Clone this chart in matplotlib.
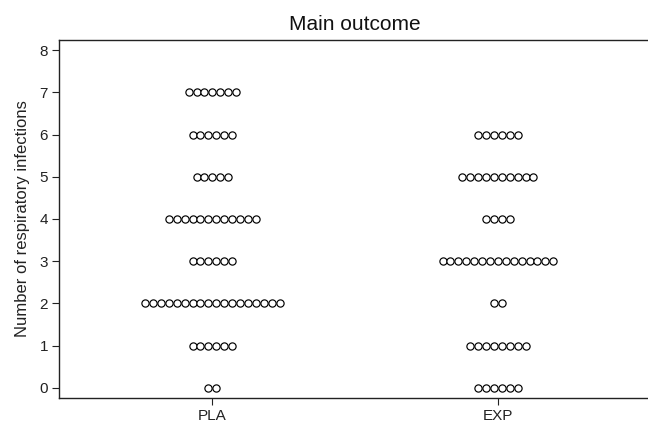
import matplotlib
matplotlib.use("Agg")
import matplotlib.pyplot as plt
import numpy as np

plt.rcParams['font.family'] = ['Liberation Sans', 'DejaVu Sans']

groups = ["PLA", "EXP"]
levels = [0, 1, 2, 3, 4, 5, 6, 7]
pla_counts = [2, 6, 18, 6, 12, 5, 6, 7]
exp_counts = [6, 8, 2, 15, 4, 10, 6, 0]
counts = [pla_counts, exp_counts]

fig = plt.figure(figsize=(6.48, 4.22), dpi=100)
ax = fig.add_axes([59/648, 1 - 398/422, 1 - 59/648 + 0.005, (398 - 40)/422])

spacing = 0.0277
for gi, cnts in enumerate(counts):
    center = gi + 1
    for lv, n in zip(levels, cnts):
        if n == 0:
            continue
        xs = center + (np.arange(n) - (n - 1) / 2) * spacing
        ax.plot(xs, [lv] * n, linestyle='none', marker='o', markersize=5.2,
                markerfacecolor='white', markeredgecolor='black', markeredgewidth=0.85)

ax.set_xlim(0.463, 2.537)
ax.set_ylim(-0.237, 8.237)
ax.set_xticks([1, 2])
ax.set_xticklabels(groups)
ax.set_yticks(range(0, 9))
ax.spines['right'].set_visible(False)
for s in ['left', 'bottom', 'top']:
    ax.spines[s].set_color('#222222')
    ax.spines[s].set_linewidth(1.0)
ax.tick_params(axis='both', length=5, width=0.8, color='#222222', labelsize=11, labelcolor='#222222', pad=3)
ax.set_ylabel("Number of respiratory infections", fontsize=12, color='#222222', labelpad=7)
ax.set_title("Main outcome", fontsize=15, color='#111111', pad=7)

fig.savefig("out.png", dpi=100)
